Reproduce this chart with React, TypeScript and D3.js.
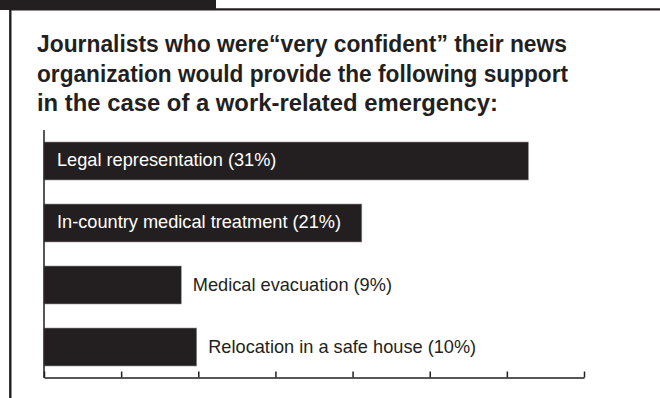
import React, { useEffect, useRef } from "react";
import * as d3 from "d3";

const titleLines = [
  "Journalists who were\u201cvery confident\u201d their news",
  "organization would provide the following support",
  "in the case of a work-related emergency:",
];
const categories = [
  "Legal representation (31%)",
  "In-country medical treatment (21%)",
  "Medical evacuation (9%)",
  "Relocation in a safe house (10%)",
];
const values = [31.4, 20.6, 8.9, 9.9];
const labelInside = [true, true, false, false];
const tickValues = [0, 5, 10, 15, 20, 25, 30, 35];

const W = 660;
const H = 398;
const INK = "#231f20";
const FONT = "'Liberation Sans', Arial, Helvetica, sans-serif";
const TITLE_WIDTHS = [530, 531, 461];

export default function App() {
  const ref = useRef<SVGSVGElement | null>(null);

  useEffect(() => {
    const svg = d3.select(ref.current);
    svg.selectAll("*").remove();

    // frame
    svg.append("rect").attr("x", 0).attr("y", 0).attr("width", 216).attr("height", 10).attr("fill", INK);
    svg.append("line").attr("x1", 10).attr("x2", W).attr("y1", 9.3).attr("y2", 9.3)
      .attr("stroke", INK).attr("stroke-width", 2.2);
    svg.append("line").attr("x1", 10.3).attr("x2", 10.3).attr("y1", 8.5).attr("y2", H)
      .attr("stroke", INK).attr("stroke-width", 2.4);

    // title
    svg.append("g").selectAll("text").data(titleLines).join("text")
      .attr("x", 37)
      .attr("y", (_d, i) => 52 + i * 29.5)
      .attr("font-family", FONT)
      .attr("font-weight", "bold")
      .attr("font-size", 23.5)
      .attr("fill", INK)
      .attr("textLength", (_d, i) => TITLE_WIDTHS[i])
      .attr("lengthAdjust", "spacingAndGlyphs")
      .text((d) => d);

    const x = d3.scaleLinear().domain([0, 35]).range([44, 584]);
    const y = d3.scaleBand<string>().domain(categories).range([130, 378])
      .paddingInner(24 / 62).paddingOuter(0.1935);

    // bars
    svg.append("g").selectAll("rect").data(categories).join("rect")
      .attr("x", x(0))
      .attr("y", (d) => y(d)!)
      .attr("width", (_d, i) => x(values[i]) - x(0))
      .attr("height", y.bandwidth())
      .attr("fill", INK)
      .attr("stroke", "#9a9899")
      .attr("stroke-width", 0.6);

    // labels
    svg.append("g").selectAll("text").data(categories).join("text")
      .attr("x", (_d, i) => (labelInside[i] ? x(0) + 13 : x(values[i]) + 11.5))
      .attr("y", (d) => y(d)! + y.bandwidth() / 2 + 5.5)
      .attr("font-family", FONT)
      .attr("font-size", 18.2)
      .attr("fill", (_d, i) => (labelInside[i] ? "#ffffff" : INK))
      .text((d) => d);

    // left axis
    svg.append("line").attr("x1", 44).attr("x2", 44).attr("y1", 130).attr("y2", 378)
      .attr("stroke", INK).attr("stroke-width", 1.5);

    // bottom axis
    const axis = d3.axisBottom(x).tickValues(tickValues).tickSize(-6).tickSizeOuter(0)
      .tickFormat(() => "");
    const g = svg.append("g").attr("transform", "translate(0,377.5)").call(axis);
    g.select(".domain").attr("stroke", INK).attr("stroke-width", 1.5);
    g.selectAll(".tick line").attr("stroke", INK).attr("stroke-width", 1.5);
  }, []);

  return (
    <svg
      ref={ref}
      width={W}
      height={H}
      viewBox={`0 0 ${W} ${H}`}
      style={{ position: "absolute", left: 0, top: 0, display: "block", background: "#ffffff" }}
    />
  );
}
